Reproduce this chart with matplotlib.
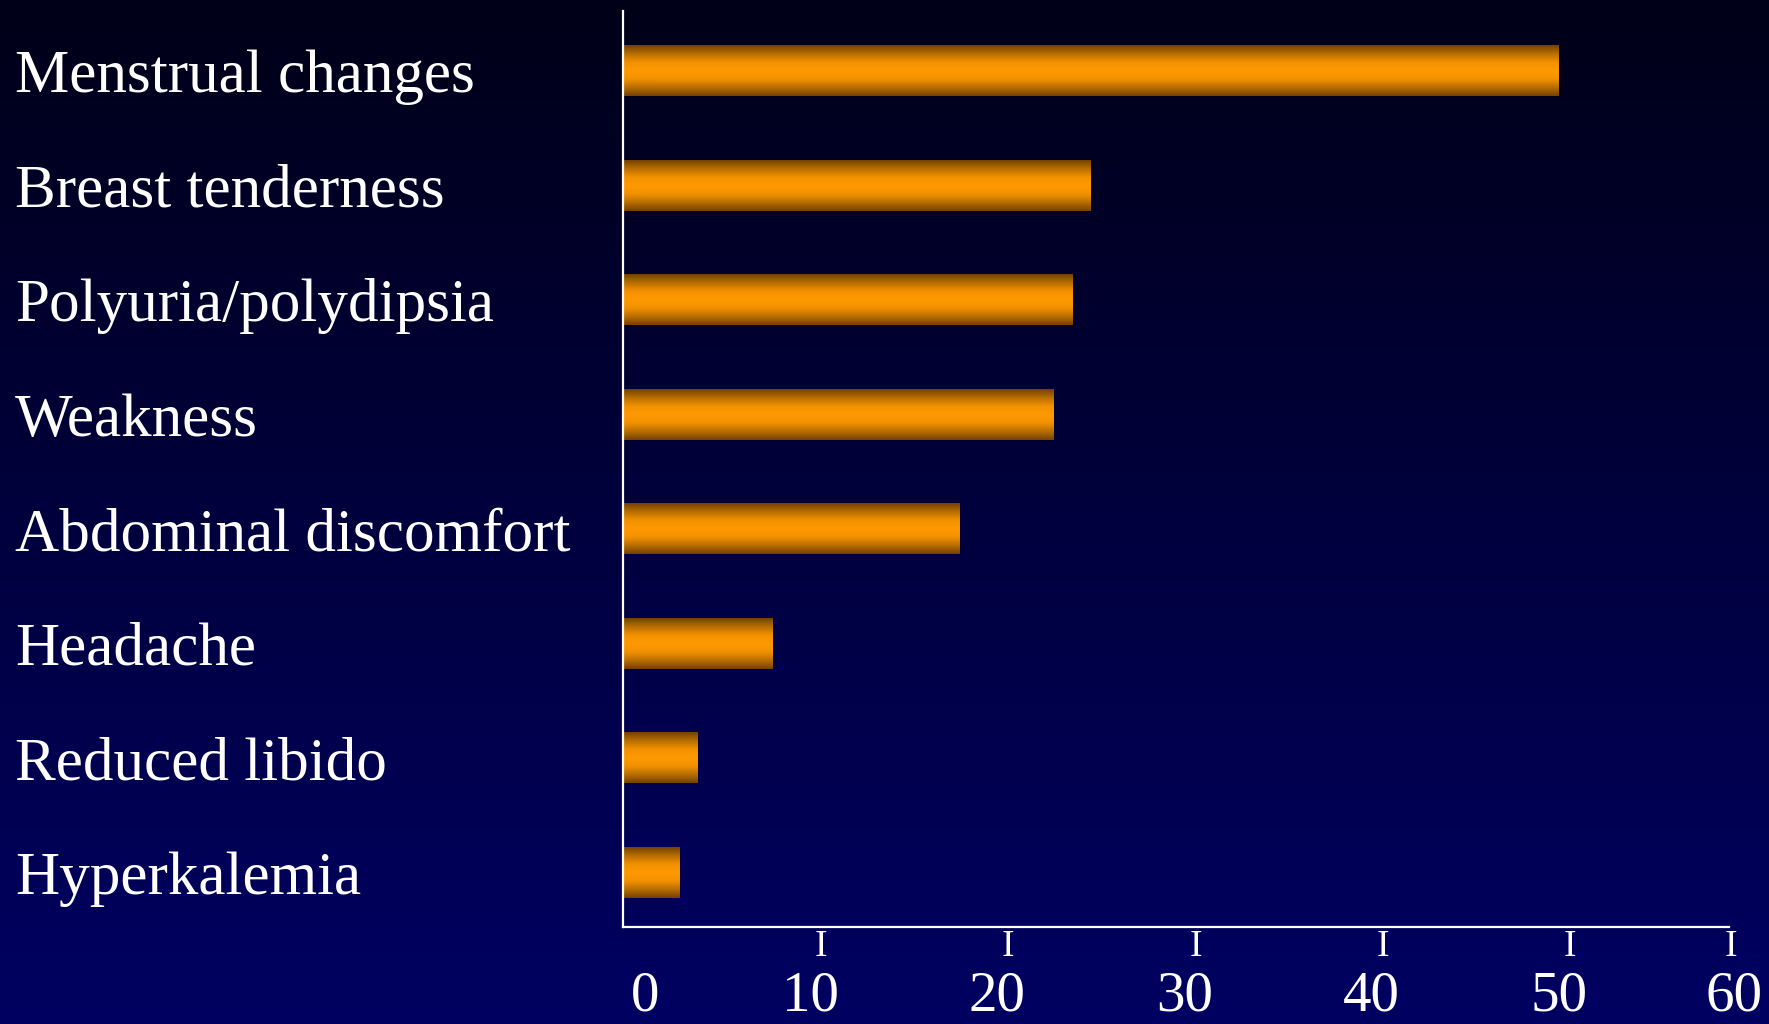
import numpy as np
import matplotlib
matplotlib.use("Agg")
import matplotlib.pyplot as plt
import matplotlib.transforms as mtransforms
from matplotlib.colors import LinearSegmentedColormap

symptoms = ["Menstrual changes", "Breast tenderness", "Polyuria/polydipsia", "Weakness",
            "Abdominal discomfort", "Headache", "Reduced libido", "Hyperkalemia"]
percent = [50, 25, 24, 23, 18, 8, 4, 3]
x_ticks = [0, 10, 20, 30, 40, 50, 60]

plt.rcParams["font.family"] = ["Liberation Serif", "DejaVu Serif"]

W, H, DPI = 1769, 1024, 100
fig = plt.figure(figsize=(W / DPI, H / DPI), dpi=DPI)

# navy backdrop, darker towards the top
bg = fig.add_axes([0, 0, 1, 1], zorder=-10)
bg_cmap = LinearSegmentedColormap.from_list("bg", ["#000018", "#000062"])
bg.imshow(np.linspace(0, 1, 256).reshape(-1, 1), aspect="auto", cmap=bg_cmap,
          extent=[0, 1, 0, 1], origin="upper")
bg.axis("off")

ax = fig.add_axes([623 / W, 1 - 927 / H, (1746 - 623) / W, (927 - 11) / H])
ax.patch.set_alpha(0)

y = np.arange(len(symptoms))
bars = ax.barh(y, percent, height=0.445, color="none", edgecolor="none")

# bars get a vertical orange gradient (dark edges, bright middle)
bar_cmap = LinearSegmentedColormap.from_list(
    "bar", ["#744200", "#b86e00", "#f29100", "#ff9900", "#f29100", "#b86e00", "#744200"])
grad = np.linspace(0, 1, 200).reshape(-1, 1)
for b in bars:
    x0, y0, w, h = b.get_x(), b.get_y(), b.get_width(), b.get_height()
    im = ax.imshow(grad, extent=[x0, x0 + w, y0 + h, y0], aspect="auto",
                   cmap=bar_cmap, zorder=2, interpolation="bilinear")
    im.set_clip_path(b)

ax.set_xlim(0, 60)
ax.set_ylim(len(symptoms) - 0.52, -0.52)
ax.set_xticks([])
ax.set_yticks([])
for side in ["top", "right"]:
    ax.spines[side].set_visible(False)
for side in ["left", "bottom"]:
    ax.spines[side].set_color("white")
    ax.spines[side].set_linewidth(1.6)
ax.spines["bottom"].set_bounds(0, 59.1)

# category labels, left-aligned at the figure edge
lab_tr = mtransforms.blended_transform_factory(fig.transFigure, ax.transData)
for yi, name in zip(y, symptoms):
    ax.text(15 / W, yi + 0.19, name, transform=lab_tr, color="white",
            fontsize=44, va="baseline", ha="left")

# x tick labels and the small "I" tick glyphs under the axis
tick_tr = mtransforms.blended_transform_factory(ax.transData, fig.transFigure)
for v in x_ticks:
    dx = 22 if v == x_ticks[0] else (-12 if v == x_ticks[-1] else 0)
    tr = tick_tr + mtransforms.ScaledTranslation(dx / DPI, 0, fig.dpi_scale_trans)
    ax.text(v, 0.001, str(v), transform=tr, color="white",
            fontsize=41, ha="center", va="bottom", clip_on=False)
    if v == x_ticks[0]:
        continue
    dx = -15 if v == x_ticks[-1] else 11
    tr = tick_tr + mtransforms.ScaledTranslation(dx / DPI, 0, fig.dpi_scale_trans)
    ax.text(v, 1 - 956 / H, "I", transform=tr, color="white",
            fontsize=27, ha="center", va="baseline", clip_on=False)

fig.savefig("out.png", dpi=DPI)
